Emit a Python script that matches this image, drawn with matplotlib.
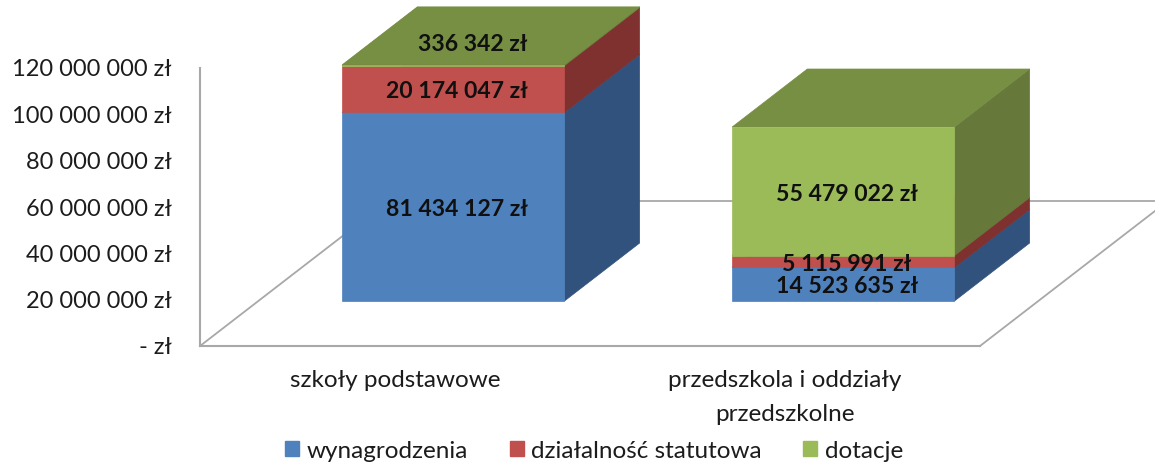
#Stacked "3D" bar chart, drawn on a plain 2D axes with an oblique projection
import matplotlib
matplotlib.use("Agg")
import matplotlib.pyplot as plt
from matplotlib.patches import Patch, Polygon

plt.rcParams['font.family'] = ['Lato', 'DejaVu Sans']

categories = ["szkoły podstawowe", "przedszkola i oddziały\nprzedszkolne"]
wynagrodzenia = [81434127, 14523635]
statutowa = [20174047, 5115991]
dotacje = [336342, 55479022]
series_names = ["wynagrodzenia", "działalność statutowa", "dotacje"]
y_ticks = [0, 20000000, 40000000, 60000000, 80000000, 100000000, 120000000]

W, H = 1155, 467
GREY = "#a8a8a8"
TEXT = "#1c1c1c"
#front, side, top colours per series
FRONT = ["#4f81bd", "#c0504d", "#9bbb59"]
SIDE = ["#31527c", "#7f3130", "#66783a"]
TOP = ["#3e6594", "#973f3c", "#768f43"]

#floor depth expressed in axis units
DEPTH_X = 0.482
DEPTH_Y = 62.6e6
BAR_WIDTH = 0.57
BAR_D0, BAR_D1 = 0.31, 0.71


def money(v):
    if v == 0:
        return "- zł"
    return f"{v:,}".replace(",", " ") + " zł"


def project(x, v, d):
    return (x + d * DEPTH_X, v + d * DEPTH_Y)


fig = plt.figure(figsize=(W / 100, H / 100), dpi=100)
ax = fig.add_axes([200 / W, 1 - 346 / H, 780 / W, 278 / H])
ax.set_xlim(0, 2)
ax.set_ylim(0, 120000000)
for side in ["top", "right"]:
    ax.spines[side].set_visible(False)
for side in ["left", "bottom"]:
    ax.spines[side].set_color(GREY)
    ax.spines[side].set_linewidth(1.5)
    ax.spines[side].set_zorder(1)

ax.set_yticks(y_ticks)
ax.set_yticklabels([money(v) for v in y_ticks], fontsize=17, color=TEXT)
ax.tick_params(axis="y", length=0, pad=20.5)
ax.set_xticks([0.5, 1.5])
ax.set_xticklabels(categories, fontsize=17.5, color=TEXT, linespacing=1.72)
ax.tick_params(axis="x", length=0, pad=17.5)

#floor edges
floor_back = project(0, 0, 1)[1]
ax.plot([0, DEPTH_X], [0, floor_back], color=GREY, lw=1.3, zorder=1, clip_on=False)
ax.plot([2, 2 + DEPTH_X], [0, floor_back], color=GREY, lw=1.3, zorder=1, clip_on=False)
ax.plot([DEPTH_X, 2 + DEPTH_X], [floor_back, floor_back], color=GREY, lw=1.3, zorder=1, clip_on=False)

#bars
all_series = [wynagrodzenia, statutowa, dotacje]
for i in range(len(categories)):
    x0 = i + 0.5 - BAR_WIDTH / 2
    x1 = i + 0.5 + BAR_WIDTH / 2
    base = 0
    for s, values in enumerate(all_series):
        top = base + values[i]
        front = [project(x0, base, BAR_D0), project(x1, base, BAR_D0),
                 project(x1, top, BAR_D0), project(x0, top, BAR_D0)]
        right = [project(x1, base, BAR_D0), project(x1, base, BAR_D1),
                 project(x1, top, BAR_D1), project(x1, top, BAR_D0)]
        roof = [project(x0, top, BAR_D0), project(x1, top, BAR_D0),
                project(x1, top, BAR_D1), project(x0, top, BAR_D1)]
        for pts, col in [(right, SIDE[s]), (roof, TOP[s]), (front, FRONT[s])]:
            ax.add_patch(Polygon(pts, closed=True, facecolor=col, edgecolor=col,
                                 lw=0.5, zorder=3, clip_on=False))
        #thin segment: its label sits on the roof of the bar
        if values[i] < 2000000:
            pos = project(i + 0.5, top, BAR_D0)
            offset = (14, 15)
        else:
            pos = project(i + 0.5, base + values[i] / 2, BAR_D0)
            offset = (2.5, -2)
        ax.annotate(money(values[i]), pos, xytext=offset, textcoords="offset points",
                    ha="center", va="center", fontsize=16.6, fontweight="bold",
                    color="#101010", zorder=5, annotation_clip=False)
        base = top

handles = [Patch(facecolor=c, edgecolor=c) for c in FRONT]
fig.legend(handles, series_names, loc="center", bbox_to_anchor=(594 / W, 1 - 451 / H),
           ncol=3, frameon=False, fontsize=17.5, labelcolor=TEXT,
           handlelength=0.58, handleheight=0.58, handletextpad=0.3,
           columnspacing=1.72, borderpad=0, borderaxespad=0)

fig.savefig("out.png", dpi=100)
